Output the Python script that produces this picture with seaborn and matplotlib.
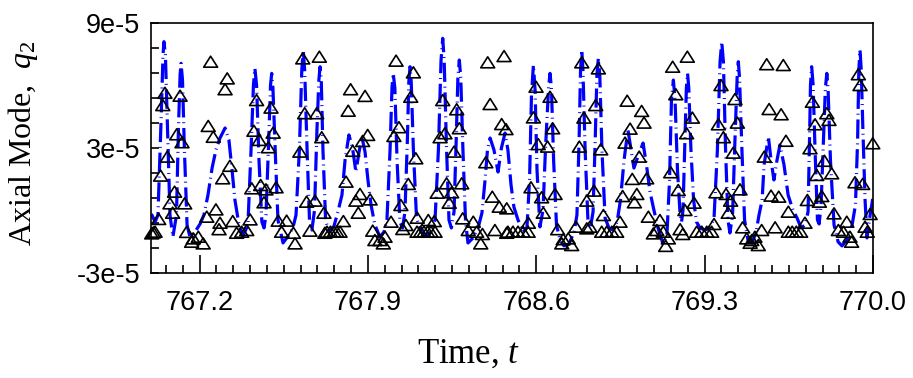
import numpy as np
import pandas as pd
import matplotlib
matplotlib.use("Agg")
import matplotlib.pyplot as plt
from matplotlib.path import Path
from matplotlib.ticker import FixedLocator, FixedFormatter
import seaborn as sns

SCALE = 1e-5  # q2 values below are stored in units of 1e-5

# Simulated response (dash-dot line): time and axial modal amplitude
line_t = [
    767.000, 767.015, 767.027, 767.040, 767.048, 767.052, 767.058, 767.067, 767.077, 767.089,
    767.104, 767.112, 767.119, 767.123, 767.129, 767.137, 767.148, 767.160, 767.181, 767.202,
    767.218, 767.235, 767.252, 767.268, 767.285, 767.306, 767.322, 767.335, 767.347, 767.364,
    767.380, 767.401, 767.414, 767.424, 767.430, 767.437, 767.447, 767.459, 767.468, 767.476,
    767.486, 767.495, 767.500, 767.505, 767.516, 767.526, 767.547, 767.568, 767.588, 767.601,
    767.615, 767.625, 767.631, 767.637, 767.647, 767.657, 767.667, 767.678, 767.688, 767.696,
    767.701, 767.706, 767.713, 767.724, 767.738, 767.759, 767.775, 767.792, 767.805, 767.821,
    767.836, 767.850, 767.863, 767.875, 767.888, 767.900, 767.913, 767.929, 767.950, 767.967,
    767.979, 767.992, 768.000, 768.005, 768.012, 768.021, 768.033, 768.044, 768.054, 768.064,
    768.070, 768.075, 768.080, 768.089, 768.102, 768.121, 768.141, 768.162, 768.179, 768.193,
    768.204, 768.211, 768.217, 768.227, 768.237, 768.247, 768.258, 768.267, 768.274, 768.280,
    768.286, 768.295, 768.306, 768.316, 768.337, 768.358, 768.374, 768.387, 768.397, 768.408,
    768.424, 768.441, 768.455, 768.470, 768.482, 768.495, 768.507, 768.524, 768.545, 768.561,
    768.572, 768.580, 768.588, 768.595, 768.603, 768.615, 768.628, 768.638, 768.651, 768.657,
    768.663, 768.672, 768.684, 768.699, 768.715, 768.736, 768.757, 768.769, 768.778, 768.784,
    768.789, 768.794, 768.803, 768.815, 768.825, 768.836, 768.845, 768.852, 768.858, 768.864,
    768.873, 768.886, 768.902, 768.919, 768.936, 768.950, 768.965, 768.981, 768.994, 769.006,
    769.025, 769.044, 769.058, 769.073, 769.089, 769.106, 769.127, 769.143, 769.154, 769.162,
    769.170, 769.177, 769.187, 769.198, 769.204, 769.210, 769.218, 769.224, 769.229, 769.234,
    769.243, 769.254, 769.266, 769.281, 769.301, 769.322, 769.339, 769.353, 769.364, 769.371,
    769.378, 769.387, 769.397, 769.405, 769.416, 769.426, 769.435, 769.440, 769.445, 769.455,
    769.466, 769.480, 769.497, 769.514, 769.526, 769.539, 769.547, 769.565, 769.576, 769.588,
    769.601, 769.613, 769.630, 769.647, 769.667, 769.684, 769.701, 769.717, 769.730, 769.736,
    769.740, 769.745, 769.751, 769.759, 769.769, 769.776, 769.784, 769.794, 769.802, 769.808,
    769.813, 769.823, 769.838, 769.855, 769.871, 769.892, 769.913, 769.927, 769.936, 769.941,
    769.946, 769.951, 769.958, 769.967, 769.975, 769.988, 770.000,
]
line_q2 = [
    -0.17, -0.55, -0.22, 4.34, 7.45, 8.09, 7.45, 3.86, -0.22, -1.27,
    -0.22, 3.86, 6.49, 7.05, 6.25, 2.90, -0.70, -1.27, -1.03, -0.65,
    -0.22, 0.74, 2.03, 2.90, 3.47, 3.95, 3.38, 1.94, 0.50, -0.70,
    -1.23, -0.70, 2.90, 6.01, 6.81, 6.01, 2.42, -0.55, -0.84, -0.22,
    2.90, 6.01, 6.57, 5.87, 2.42, -0.46, -1.56, -1.23, -0.84, -0.22,
    2.90, 6.73, 7.69, 6.73, 2.90, -0.46, -0.94, 0.02, 3.86, 6.25,
    6.89, 6.25, 2.90, -0.46, -1.03, -0.75, -0.07, 0.74, 2.42, 3.62,
    2.99, 1.84, 2.80, 3.52, 2.80, 1.46, 0.26, -0.70, -1.27, -1.03,
    -0.46, 2.90, 5.87, 6.57, 5.87, 2.42, -0.55, -0.84, -0.07, 3.38,
    6.16, 6.89, 6.16, 2.90, -0.36, -1.03, -1.23, -1.03, -0.46, 2.90,
    7.21, 8.25, 7.21, 2.90, -0.46, -0.84, -0.07, 3.38, 6.35, 7.21,
    6.35, 2.90, -0.55, -1.56, -1.32, -0.84, -0.12, 1.46, 2.90, 3.47,
    2.90, 1.84, 2.99, 3.71, 2.90, 1.22, 0.16, -0.46, -1.03, -0.84,
    1.46, 5.53, 6.97, 5.77, 1.94, -0.79, 0.02, 2.90, 5.87, 6.57,
    5.87, 2.42, -0.70, -1.42, -1.70, -1.61, -1.03, -0.22, 3.38, 6.73,
    7.69, 6.73, 2.90, -0.55, -0.84, -0.07, 3.38, 6.49, 7.29, 6.49,
    2.90, -0.36, -0.84, -0.94, -0.55, 0.50, 2.42, 3.86, 2.90, 2.03,
    2.66, 3.23, 2.18, 0.88, 0.02, -0.84, -1.61, -1.23, 1.46, 5.29,
    6.25, 5.29, 1.94, -0.22, -0.55, 0.02, 3.38, 5.87, 6.57, 5.87,
    2.90, 0.50, -0.55, -0.84, -0.94, -0.84, -0.36, 2.90, 7.12, 8.09,
    7.12, 2.90, -0.46, -1.08, -0.22, 3.38, 6.35, 7.13, 6.35, 2.90,
    -0.46, -1.42, -1.56, -1.03, -0.22, 0.50, 2.18, 3.53, 2.42, 1.46,
    2.42, 3.14, 2.18, 0.74, 0.02, -0.36, -0.84, -0.70, -0.07, 3.38,
    6.01, 6.89, 6.01, 2.90, -0.46, -0.65, 0.26, 3.38, 5.87, 6.57,
    5.87, 2.42, -0.70, -1.51, -1.70, -1.42, -0.70, 0.26, 3.38, 6.73,
    7.69, 6.73, 3.86, 0.50, -1.32, -0.22, 0.64,
]

# Sampled points (open triangles)
point_t = [
    767.246, 767.315, 767.306, 767.056, 767.119, 767.047, 767.236, 767.257, 767.105, 767.127,
    767.066, 767.326, 767.038, 767.296, 767.096, 767.077, 767.138, 767.088, 767.030, 767.230,
    767.268, 767.285, 767.281, 767.338, 767.001, 767.008, 767.015, 767.146, 767.174, 767.195,
    767.215, 767.167, 767.354, 767.375, 767.396, 767.410, 767.437, 767.426, 767.448, 767.497,
    767.506, 767.486, 767.417, 767.454, 767.476, 767.518, 767.468, 767.527, 767.562, 767.541,
    767.590, 767.597, 767.629, 767.698, 767.637, 767.687, 767.617, 767.708, 767.645, 767.680,
    767.717, 767.659, 767.721,
    767.828, 767.888, 767.818, 767.899, 767.878, 767.837, 767.809, 767.867, 767.850, 767.909,
    767.860, 767.798, 767.730, 767.744, 767.759, 767.771, 767.784, 767.920, 767.929, 767.950,
    767.971, 767.964, 767.996, 768.017, 768.089, 768.078, 768.029, 768.008, 768.099, 768.068,
    768.037, 768.058, 768.045, 768.105, 768.104, 768.119, 768.133, 768.148, 768.162, 768.179,
    768.151, 768.176, 768.211, 768.220, 768.200, 768.269, 768.280, 768.258, 768.227, 768.188,
    768.248, 768.238, 768.290, 768.294, 768.317, 768.338, 768.352, 768.376, 768.369, 768.398,
    768.466, 768.408, 768.456, 768.474, 768.390, 768.417, 768.446, 768.477, 768.428, 768.477,
    768.482, 768.503, 768.524, 768.545, 768.566, 768.567, 768.599, 768.657, 768.588, 768.668,
    768.608, 768.647, 768.578, 768.622, 768.678, 768.629, 768.689, 768.712, 768.733, 768.747,
    768.706, 768.765, 768.789, 768.858, 768.847, 768.798, 768.779, 768.868, 768.840, 768.810,
    768.879, 768.823, 768.810, 768.872, 768.893, 768.914, 768.934, 768.948, 768.978, 769.038,
    769.048, 768.990, 768.969, 769.028, 768.999, 769.059, 768.959, 769.018, 769.008, 769.066,
    769.114, 769.101, 769.128, 769.087, 769.149, 769.138, 769.167, 769.228, 769.180, 769.225,
    769.159, 769.190, 769.218, 769.198, 769.209,
    769.368, 769.426, 769.249, 769.357, 769.436, 769.378, 769.419, 769.256, 769.347, 769.389,
    769.447, 769.408, 769.398, 769.267, 769.288, 769.309, 769.329, 769.339, 769.458, 769.475,
    769.496, 769.509, 769.523, 769.489, 769.537, 769.558, 769.627, 769.568, 769.618, 769.638,
    769.548, 769.576, 769.608, 769.648, 769.593, 769.648, 769.664, 769.681, 769.699, 769.717,
    769.748, 769.808, 769.817, 769.759, 769.738, 769.798, 769.828, 769.766, 769.727, 769.787,
    769.777, 769.838, 769.891, 769.856, 769.877, 769.904, 769.911, 769.939, 769.946, 769.925,
    769.957, 769.999, 769.988, 769.967, 769.976,
]
point_q2 = [
    7.13, 6.33, 5.81, 5.64, 5.50, 5.05, 4.05, 3.53, 3.65, 3.27,
    2.58, 2.14, 1.67, 1.54, 0.90, 0.34, 0.34, -0.11, -0.41, -0.30,
    0.05, -0.59, -0.90, -0.51, -1.10, -1.05, -1.02, -1.03, -1.34, -1.26,
    -1.58, -1.50, -1.07, -1.02, -0.94, -0.43, 5.29, 3.82, 3.38, 4.93,
    3.73, 3.03, 1.06, 1.22, 1.01, 1.11, 0.39, -0.49, -0.49, -1.02,
    -1.07, -1.58, 7.29, 7.37, 4.66, 4.66, 2.82, 3.51, 0.42, 0.47,
    -0.11, -0.97, -1.07,
    5.81, 5.49, 4.78, 3.62, 3.33, 2.86, 1.38, 0.79, 0.47, 0.53,
    -0.11, -0.51, -1.02, -1.02, -1.02, -1.02, -1.02, -0.97, -1.42, -1.42,
    -1.26, -1.58, -0.54, 7.18, 6.62, 5.45, 3.99, 3.57, 2.50, 1.27,
    0.26, -0.70, -0.89, -0.35, -1.02, -1.02, -1.02, -1.02, -1.02, -1.02,
    -0.46, -0.51, 5.29, 3.70, 3.51, 4.85, 3.94, 2.82, 1.30, 0.85,
    0.87, 0.37, 1.30, -0.38, -0.94, -0.54, -1.02, -1.13, -1.58, 7.10,
    7.40, 5.10, 4.14, 3.90, 2.31, 0.66, 0.18, 0.10, -0.94, -1.07,
    -1.02, -1.02, -1.02, -1.02, -1.02, -0.59, 5.93, 5.45, 4.46, 3.94,
    3.18, 3.06, 1.11, 0.63, 0.79, -0.11, -0.90, -1.38, -1.34, -1.66,
    -1.58, -0.78, 7.10, 6.81, 5.05, 4.45, 3.06, 2.93, 0.95, 0.47,
    -0.22, -0.78, -0.86, -1.02, -1.02, -1.02, -1.02, -0.54, 5.26, 4.77,
    4.21, 3.92, 3.25, 2.58, 1.51, 1.54, 0.69, 0.79, 0.39, -0.30,
    -0.46, -0.94, -1.02, -1.10, -1.34, -1.70, 6.89, 7.37, 5.57, 3.70,
    1.83, 0.98, 0.02, -0.90, -1.13,
    6.01, 5.34, 4.45, 4.13, 4.21, 3.51, 2.77, 0.37, 0.87, 0.79,
    1.01, 0.47, -0.11, -1.02, -1.02, -1.02, -1.02, -0.65, -0.81, -1.34,
    -1.42, -1.26, -1.66, -1.55, -0.94, 7.01, 6.97, 4.86, 4.61, 3.34,
    2.58, 0.71, 0.66, -0.06, -0.81, -1.02, -1.02, -1.02, -1.02, -0.59,
    5.21, 4.66, 4.34, 4.13, 2.98, 2.38, 1.78, 1.70, 0.50, 0.69,
    0.42, -0.14, -0.54, -0.94, -1.02, -1.26, -1.50, 6.53, 6.01, 1.35,
    1.27, 3.22, -0.17, -0.78, -1.02,
]

x_ticks = [767.2, 767.9, 768.6, 769.3, 770.0]
x_tick_labels = ["767.2", "767.9", "768.6", "769.3", "770.0"]
y_ticks = [-3e-5, 3e-5, 9e-5]
y_tick_labels = ["-3e-5", "3e-5", "9e-5"]

line_df = pd.DataFrame({"t": line_t, "q2": np.array(line_q2) * SCALE})
point_df = pd.DataFrame({"t": point_t, "q2": np.array(point_q2) * SCALE})

sns.set_theme(style="white")
plt.rcParams["axes.unicode_minus"] = False
plt.rcParams["text.color"] = "black"
plt.rcParams["xtick.color"] = "black"
plt.rcParams["ytick.color"] = "black"
plt.rcParams["axes.labelcolor"] = "black"
plt.rcParams["mathtext.fontset"] = "custom"
plt.rcParams["mathtext.rm"] = "Liberation Serif"
plt.rcParams["mathtext.it"] = "Liberation Serif:italic"

fig = plt.figure(figsize=(9.13, 3.78), dpi=100)
ax = fig.add_axes([0.1659, 0.2778, 0.7903, 0.6622])

sns.lineplot(data=line_df, x="t", y="q2", ax=ax, color="#0000ff",
             linewidth=2.3, estimator=None, sort=False, zorder=2)
ax.lines[0].set_dashes([6.0, 1.5, 0.3, 1.5])

# flattened open triangle marker
tri = Path([(0.0, 0.79), (-1.0, -0.79), (1.0, -0.79), (0.0, 0.79)],
           [Path.MOVETO, Path.LINETO, Path.LINETO, Path.CLOSEPOLY])
sns.scatterplot(data=point_df, x="t", y="q2", ax=ax, marker=tri, s=100,
                facecolor="none", edgecolor="black", linewidth=1.2,
                zorder=3, clip_on=False)

ax.set_xlim(767.0, 770.0)
ax.set_ylim(-3e-5, 9e-5)

ax.xaxis.set_major_locator(FixedLocator(x_ticks))
ax.xaxis.set_major_formatter(FixedFormatter(x_tick_labels))
ax.xaxis.set_minor_locator(FixedLocator([767.2 + 0.07 * k for k in range(-2, 41)]))
ax.yaxis.set_major_locator(FixedLocator(y_ticks))
ax.yaxis.set_major_formatter(FixedFormatter(y_tick_labels))
ax.yaxis.set_minor_locator(FixedLocator([-3e-5 + 1.2e-5 * k for k in range(11)]))

for lab in ax.get_xticklabels() + ax.get_yticklabels():
    lab.set_fontfamily("Liberation Sans")
    lab.set_fontsize(19.5)
    lab.set_color("black")

ax.tick_params(axis="x", which="major", direction="in", length=13, width=1.2,
               color="black", pad=12, bottom=True, top=False)
ax.tick_params(axis="x", which="minor", direction="in", length=6, width=1.2,
               color="black", bottom=True, top=False)
ax.tick_params(axis="y", which="both", direction="in", length=6, width=1.2,
               color="black", pad=8, left=True, right=False)

for side in ["left", "bottom", "right", "top"]:
    ax.spines[side].set_visible(True)
    ax.spines[side].set_color("black")
    ax.spines[side].set_linewidth(1.2)

ax.set_xlabel("Time, $t$", fontfamily="Liberation Serif", fontsize=25, color="black")
ax.set_ylabel("Axial Mode,  $q_2$", fontfamily="Liberation Serif", fontsize=23, color="black")
ax.xaxis.set_label_coords(0.44, -0.26)
ax.yaxis.set_label_coords(-0.155, 0.52)

fig.savefig("out.png", dpi=100, facecolor="white")
